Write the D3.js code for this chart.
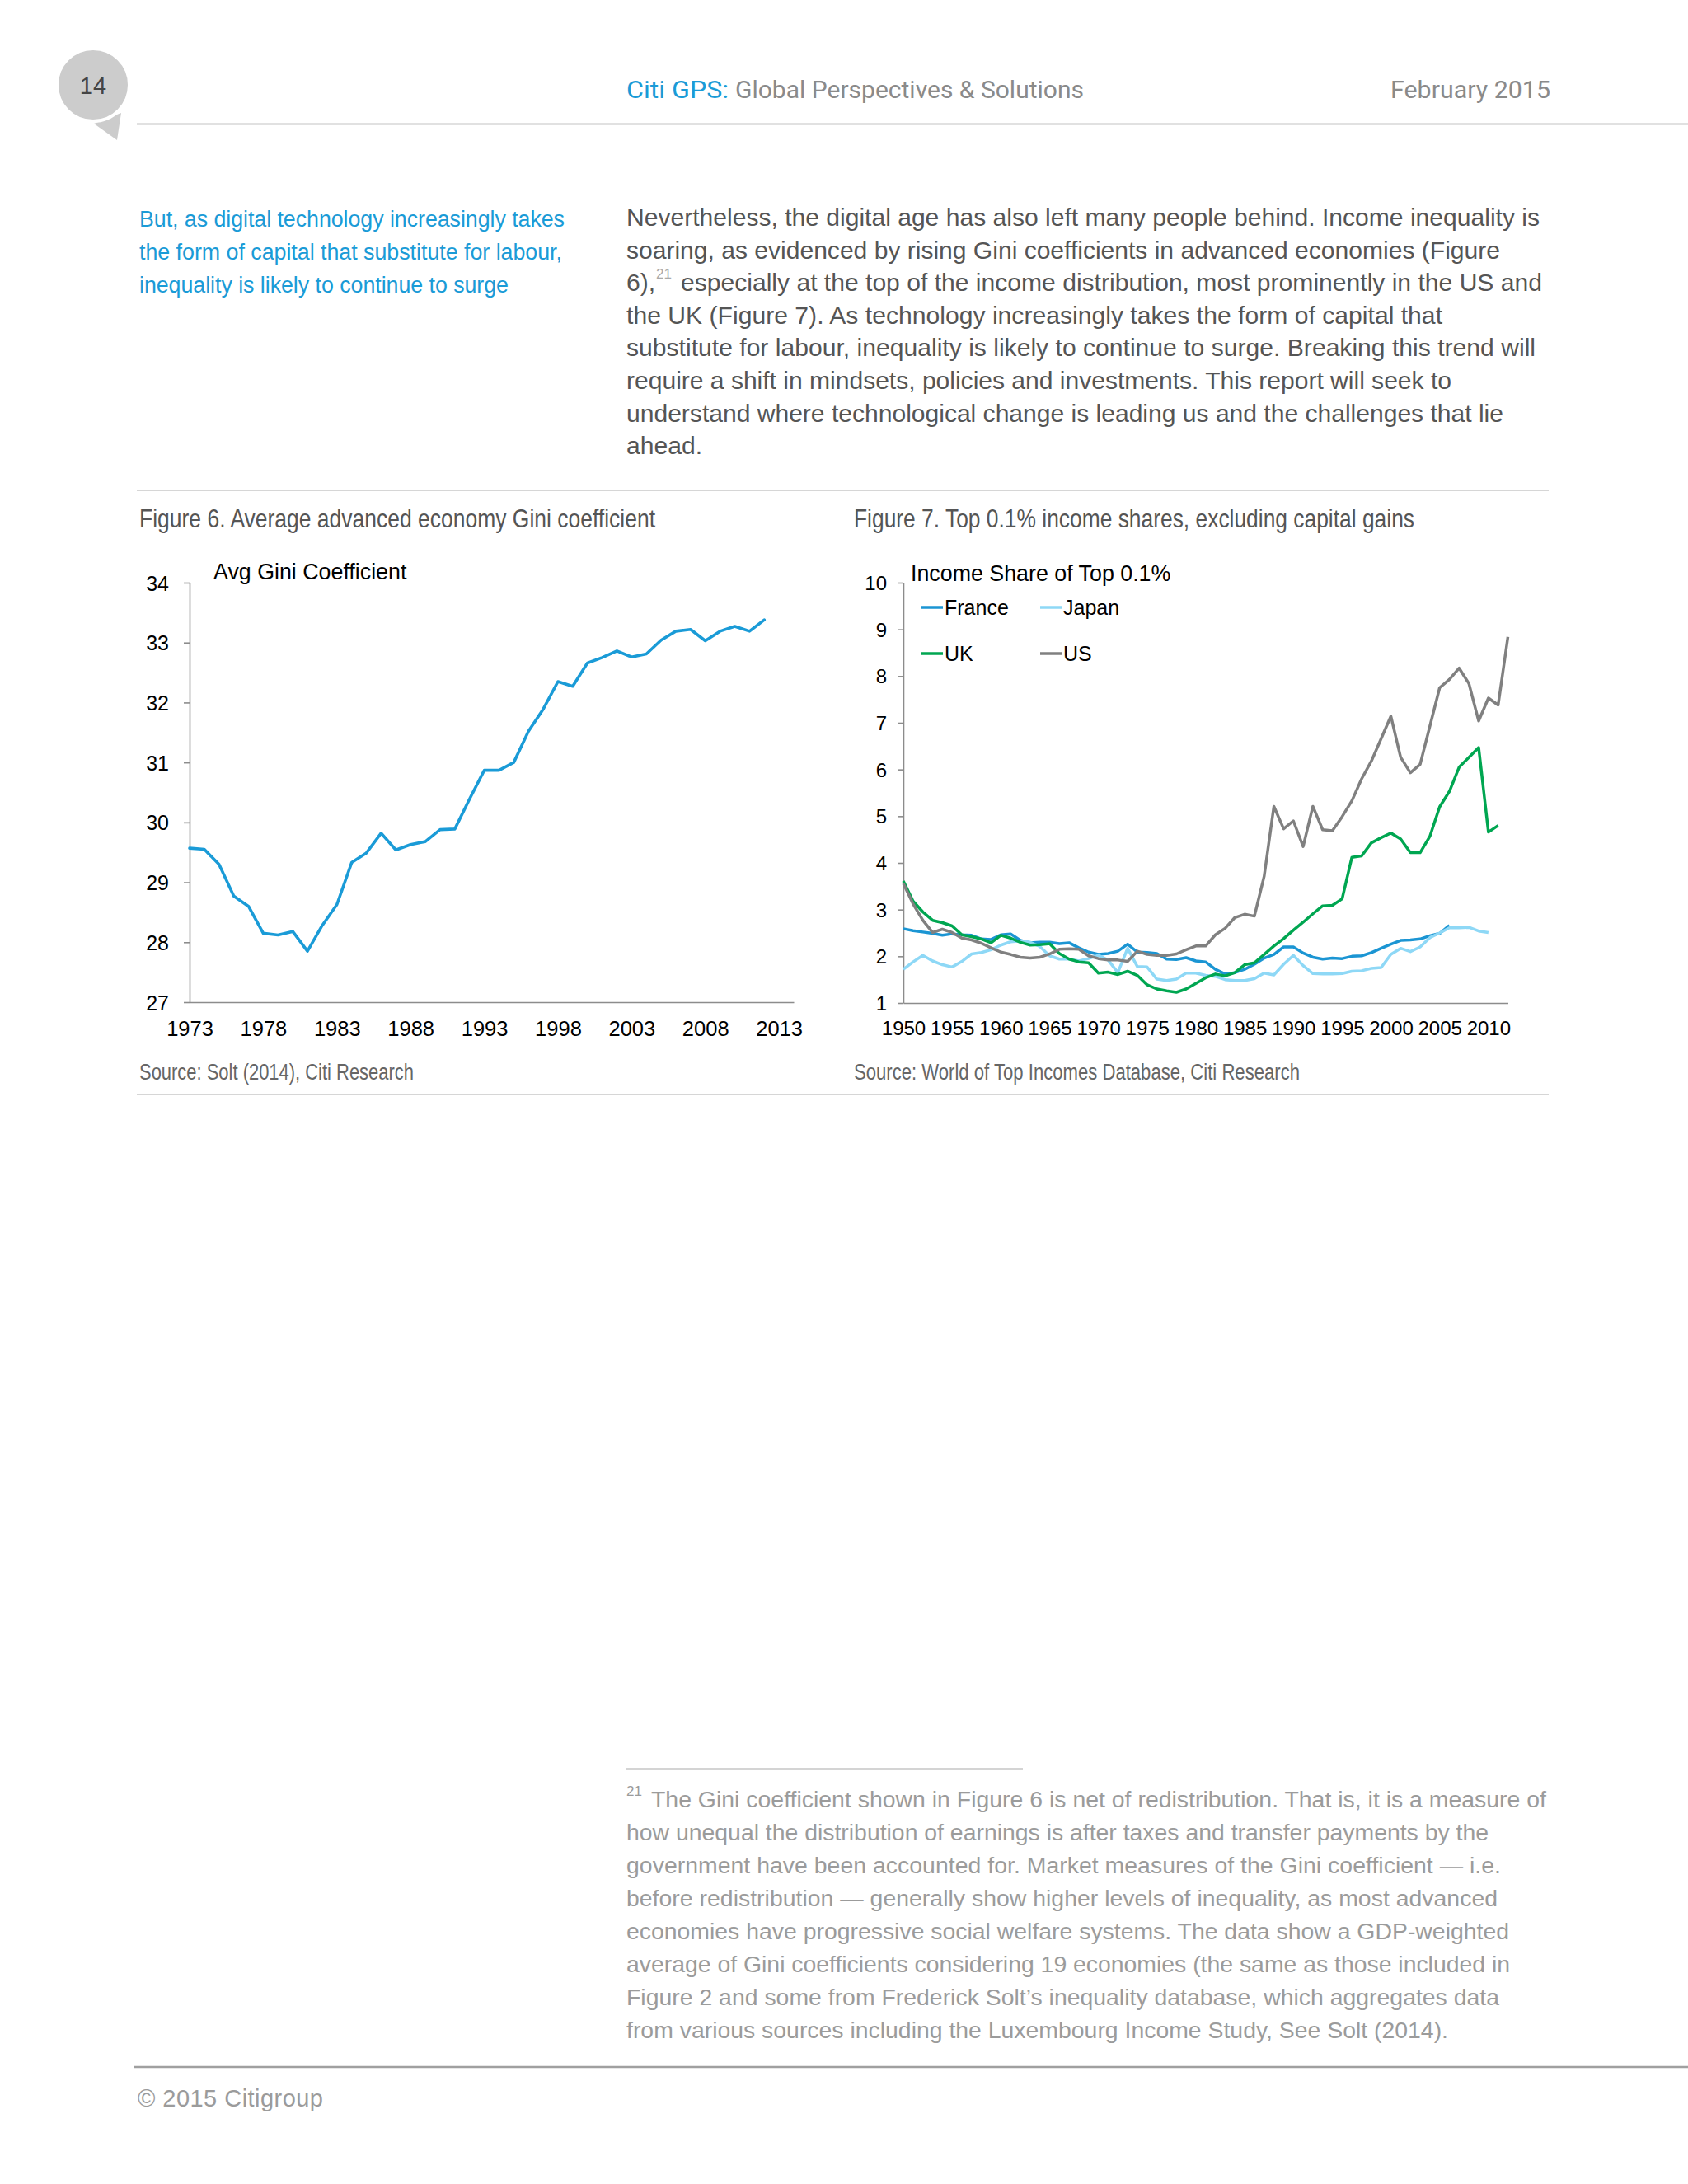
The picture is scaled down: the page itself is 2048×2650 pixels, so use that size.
<!DOCTYPE html>
<html>
<head>
<meta charset="utf-8">
<script src="https://cdn.jsdelivr.net/npm/d3@7"></script>
<style>
  body { margin: 0; background: #ffffff; }
  svg { display: block; }
</style>
</head>
<body>
<svg id="page" width="2048" height="2650"></svg>
<script>
// ---------------- DATA ----------------
// Figure 6: average advanced economy Gini coefficient, 1973-2012
const giniYearStart = 1973;
const giniValues = [
  29.57, 29.55, 29.30, 28.77, 28.60, 28.15, 28.12, 28.18, 27.85, 28.28,
  28.63, 29.33, 29.49, 29.82, 29.54, 29.63, 29.68, 29.88, 29.89, 30.39,
  30.87, 30.87, 31.00, 31.52, 31.89, 32.35, 32.27, 32.66, 32.75, 32.86,
  32.76, 32.81, 33.04, 33.19, 33.22, 33.03, 33.19, 33.27, 33.19, 33.38
];
const giniXTicks = [1973, 1978, 1983, 1988, 1993, 1998, 2003, 2008, 2013];
const giniYTicks = [27, 28, 29, 30, 31, 32, 33, 34];

// Figure 7: income share of top 0.1%, from 1950
const shareYearStart = 1950;
const franceShare = [
  2.59, 2.55, 2.52, 2.49, 2.45, 2.48, 2.46, 2.45, 2.37, 2.36,
  2.46, 2.48, 2.34, 2.29, 2.30, 2.30, 2.27, 2.29, 2.18, 2.09,
  2.04, 2.06, 2.11, 2.26, 2.09, 2.08, 2.06, 1.94, 1.93, 1.97,
  1.90, 1.88, 1.72, 1.62, 1.65, 1.72, 1.83, 1.96, 2.04, 2.20,
  2.20, 2.07, 1.98, 1.94, 1.96, 1.95, 2.00, 2.01, 2.08, 2.17,
  2.26, 2.34, 2.35, 2.37, 2.44, 2.49, 2.66
];
const japanShare = [
  1.72, 1.88, 2.02, 1.90, 1.82, 1.77, 1.89, 2.05, 2.08, 2.14,
  2.24, 2.31, 2.33, 2.30, 2.21, 2.01, 1.94, 1.94, 1.90, 1.95,
  2.02, 1.92, 1.65, 2.17, 1.78, 1.77, 1.51, 1.48, 1.51, 1.64,
  1.64, 1.59, 1.57, 1.50, 1.48, 1.48, 1.52, 1.64, 1.60, 1.83,
  2.02, 1.80, 1.63, 1.62, 1.62, 1.63, 1.68, 1.69, 1.74, 1.76,
  2.04, 2.17, 2.10, 2.20, 2.40, 2.50, 2.61, 2.61, 2.62, 2.54,
  2.51
];
const ukShare = [
  3.61, 3.18, 2.95, 2.77, 2.72, 2.65, 2.46, 2.42, 2.37, 2.29,
  2.45, 2.39, 2.30, 2.24, 2.25, 2.27, 2.06, 1.94, 1.88, 1.86,
  1.64, 1.66, 1.61, 1.68, 1.59, 1.39, 1.30, 1.26, 1.23, 1.30,
  1.42, 1.54, 1.62, 1.58, 1.65, 1.82, 1.86, 2.04, 2.22, 2.38,
  2.56, 2.73, 2.91, 3.08, 3.09, 3.23, 4.12, 4.15, 4.43, 4.54,
  4.64, 4.51, 4.22, 4.22, 4.57, 5.20, 5.53, 6.05, 6.26, 6.47,
  4.66, 4.80
];
const usShare = [
  3.56, 3.12, 2.77, 2.51, 2.58, 2.51, 2.39, 2.35, 2.28, 2.18,
  2.09, 2.04, 1.98, 1.96, 1.98, 2.05, 2.15, 2.16, 2.15, 2.01,
  1.95, 1.92, 1.92, 1.89, 2.11, 2.04, 2.02, 2.02, 2.05, 2.14,
  2.22, 2.22, 2.46, 2.60, 2.83, 2.90, 2.86, 3.71, 5.21, 4.73,
  4.90, 4.35, 5.21, 4.71, 4.69, 4.99, 5.33, 5.80, 6.18, 6.66,
  7.14, 6.26, 5.93, 6.11, 6.93, 7.75, 7.93, 8.17, 7.84, 7.04,
  7.53, 7.38, 8.84
];
const shareSeriesNames = ["France", "Japan", "UK", "US"];
const shareXTicks = [1950, 1955, 1960, 1965, 1970, 1975, 1980, 1985, 1990, 1995, 2000, 2005, 2010];
const shareYTicks = [1, 2, 3, 4, 5, 6, 7, 8, 9, 10];

// Texts
const pageNumber = "14";
const headerBrand = "Citi GPS:";
const headerTitle = "Global Perspectives & Solutions";
const headerDate = "February 2015";
const sideLines = [
  "But, as digital technology increasingly takes",
  "the form of capital that substitute for labour,",
  "inequality is likely to continue to surge"
];
const bodyLines = [
  "Nevertheless, the digital age has also left many people behind. Income inequality is",
  "soaring, as evidenced by rising Gini coefficients in advanced economies (Figure",
  ["6),", "21", "especially at the top of the income distribution, most prominently in the US and"],
  "the UK (Figure 7). As technology increasingly takes the form of capital that",
  "substitute for labour, inequality is likely to continue to surge. Breaking this trend will",
  "require a shift in mindsets, policies and investments. This report will seek to",
  "understand where technological change is leading us and the challenges that lie",
  "ahead."
];
const fig6Title = "Figure 6. Average advanced economy Gini coefficient";
const fig7Title = "Figure 7. Top 0.1% income shares, excluding capital gains";
const fig6Label = "Avg Gini Coefficient";
const fig7Label = "Income Share of Top 0.1%";
const fig6Source = "Source: Solt (2014), Citi Research";
const fig7Source = "Source: World of Top Incomes Database, Citi Research";
const footnoteMark = "21";
const footnoteLines = [
  "The Gini coefficient shown in Figure 6 is net of redistribution. That is, it is a measure of",
  "how unequal the distribution of earnings is after taxes and transfer payments by the",
  "government have been accounted for. Market measures of the Gini coefficient \u2014 i.e.",
  "before redistribution \u2014 generally show higher levels of inequality, as most advanced",
  "economies have progressive social welfare systems. The data show a GDP-weighted",
  "average of Gini coefficients considering 19 economies (the same as those included in",
  "Figure 2 and some from Frederick Solt\u2019s inequality database, which aggregates data",
  "from various sources including the Luxembourg Income Study, See Solt (2014)."
];
const copyright = "\u00a9 2015 Citigroup";

// ---------------- STYLE ----------------
const SANS = "'Liberation Sans', Arial, Helvetica, sans-serif";
const NARROW = "'Liberation Sans Narrow', 'Arial Narrow', 'Liberation Sans', Arial, sans-serif";
const HEAD = "Roboto, 'Open Sans', 'DejaVu Sans', sans-serif";
const BLUE = "#1a9bd7";
const AXIS = "#8c8c8c";
const seriesColors = { France: "#1b95d3", Japan: "#8ed8f6", UK: "#00a651", US: "#808080" };

const svg = d3.select("#page");
svg.append("rect").attr("width", 2048).attr("height", 2650).attr("fill", "#fff");

function text(x, y, s, o) {
  const t = svg.append("text").attr("x", x).attr("y", y).text(s)
    .attr("font-family", o.font || SANS)
    .attr("font-size", o.size)
    .attr("fill", o.fill || "#000");
  if (o.anchor) t.attr("text-anchor", o.anchor);
  if (o.weight) t.attr("font-weight", o.weight);
  if (o.len) t.attr("textLength", o.len).attr("lengthAdjust", o.adjust || "spacing");
  return t;
}

// ---------------- HEADER ----------------
svg.append("path").attr("d", "M114,150 L147,137 L142,170 Z").attr("fill", "#cccccc");
svg.append("circle").attr("cx", 113).attr("cy", 103).attr("r", 44)
  .attr("fill", "#cccccc").attr("stroke", "#ffffff").attr("stroke-width", 4);
text(113, 114, pageNumber, { size: 29, fill: "#444", anchor: "middle" });

text(760, 119, headerBrand, { font: HEAD, size: 30, fill: BLUE, len: 124, adjust: "spacingAndGlyphs" });
text(892, 119, headerTitle, { font: HEAD, size: 30, fill: "#8a8a8a", len: 423, adjust: "spacingAndGlyphs" });
text(1687, 119, headerDate, { font: HEAD, size: 30, fill: "#8a8a8a", len: 194, adjust: "spacingAndGlyphs" });
svg.append("line").attr("x1", 166).attr("x2", 2048).attr("y1", 150.5).attr("y2", 150.5)
  .attr("stroke", "#c4c4c4").attr("stroke-width", 2);

// ---------------- SIDE + BODY TEXT ----------------
const sideEnds = [685, 682, 617];
sideLines.forEach((s, i) => {
  text(169, 275 + 40 * i, s, { size: 26.8, fill: BLUE, len: sideEnds[i] - 169 });
});

const bodyEnds = [1868, 1820, 1871, 1750, 1863, 1761, 1824, null];
bodyLines.forEach((s, i) => {
  const y = 274 + 39.6 * i;
  if (Array.isArray(s)) {
    text(760, y, s[0], { size: 30.1, fill: "#555" });
    text(796, y - 15, s[1], { size: 17, fill: "#aaa" });
    text(826, y, s[2], { size: 30.1, fill: "#555", len: bodyEnds[i] - 826 });
  } else {
    const o = { size: 30.1, fill: "#555" };
    if (bodyEnds[i]) o.len = bodyEnds[i] - 760;
    text(760, y, s, o);
  }
});

// separators
svg.append("line").attr("x1", 166).attr("x2", 1879).attr("y1", 595).attr("y2", 595)
  .attr("stroke", "#c8c8c8").attr("stroke-width", 1.6);
svg.append("line").attr("x1", 166).attr("x2", 1879).attr("y1", 1328).attr("y2", 1328)
  .attr("stroke", "#c8c8c8").attr("stroke-width", 1.6);

// figure titles & sources
text(169, 640, fig6Title, { font: NARROW, size: 32, fill: "#555", len: 626, adjust: "spacingAndGlyphs" });
text(1036, 640, fig7Title, { font: NARROW, size: 32, fill: "#555", len: 680, adjust: "spacingAndGlyphs" });
text(169, 1310, fig6Source, { font: NARROW, size: 27, fill: "#666", len: 333, adjust: "spacingAndGlyphs" });
text(1036, 1310, fig7Source, { font: NARROW, size: 27, fill: "#666", len: 541, adjust: "spacingAndGlyphs" });

// ---------------- AXES HELPER ----------------
function drawAxes(x, y, xTicks, yTicks, o) {
  const x0 = x.range()[0];
  const yBottom = y.range()[0];
  const gy = svg.append("g").attr("transform", `translate(${x0},0)`)
    .call(d3.axisLeft(y).tickValues(yTicks).tickSize(o.tick).tickSizeOuter(0).tickFormat(d3.format("d")));
  gy.attr("font-family", SANS).attr("font-size", o.yfs);
  gy.select(".domain").attr("stroke", AXIS).attr("stroke-width", 1.6);
  gy.selectAll(".tick line").attr("stroke", AXIS).attr("stroke-width", 1.6);
  gy.selectAll(".tick text").attr("x", -o.yOff).attr("dy", "0.36em").attr("fill", "#000");

  const gx = svg.append("g").attr("transform", `translate(0,${yBottom})`)
    .call(d3.axisBottom(x).tickValues(xTicks).tickSize(0).tickSizeOuter(0).tickFormat(d3.format("d")));
  gx.attr("font-family", SANS).attr("font-size", o.xfs);
  gx.select(".domain").attr("stroke", AXIS).attr("stroke-width", 1.6);
  gx.selectAll(".tick text").attr("y", o.xOff).attr("dy", null).attr("fill", "#000");
}

// ---------------- FIGURE 6 ----------------
const x6 = d3.scaleLinear().domain([1973, 2014]).range([230, 963]);
const y6 = d3.scaleLinear().domain([27, 34]).range([1216, 707]);
drawAxes(x6, y6, giniXTicks, giniYTicks, { tick: 7, yOff: 25, xOff: 41, yfs: 25, xfs: 25.5 });
text(259, 703, fig6Label, { size: 26.8, fill: "#000" });
const giniData = giniValues.map((v, i) => ({ year: giniYearStart + i, v }));
svg.append("path").datum(giniData)
  .attr("d", d3.line().x(d => x6(d.year)).y(d => y6(d.v)))
  .attr("fill", "none").attr("stroke", BLUE).attr("stroke-width", 3.6)
  .attr("stroke-linejoin", "round").attr("stroke-linecap", "round");

// ---------------- FIGURE 7 ----------------
const x7 = d3.scaleLinear().domain([1950, 2012]).range([1096, 1829.5]);
const y7 = d3.scaleLinear().domain([1, 10]).range([1217, 707]);
drawAxes(x7, y7, shareXTicks, shareYTicks, { tick: 6, yOff: 20, xOff: 39, yfs: 24, xfs: 24 });
text(1105, 705, fig7Label, { size: 26.8, fill: "#000" });

const shareSeries = {
  France: franceShare, Japan: japanShare, UK: ukShare, US: usShare
};
const line7 = d3.line().x(d => x7(d.year)).y(d => y7(d.v));
shareSeriesNames.forEach(name => {
  const data = shareSeries[name].map((v, i) => ({ year: shareYearStart + i, v }));
  svg.append("path").datum(data).attr("d", line7)
    .attr("fill", "none").attr("stroke", seriesColors[name]).attr("stroke-width", 3.5)
    .attr("stroke-linejoin", "round");
});

// legend
const legendPos = [
  { name: "France", lx: 1118, tx: 1146, y: 737 },
  { name: "Japan", lx: 1262, tx: 1290, y: 737 },
  { name: "UK", lx: 1118, tx: 1146, y: 793 },
  { name: "US", lx: 1262, tx: 1290, y: 793 }
];
legendPos.forEach(p => {
  svg.append("line").attr("x1", p.lx).attr("x2", p.lx + 26).attr("y1", p.y).attr("y2", p.y)
    .attr("stroke", seriesColors[p.name]).attr("stroke-width", 3.5);
  text(p.tx, p.y + 8.5, p.name, { size: 25, fill: "#000" });
});

// ---------------- FOOTNOTE ----------------
svg.append("line").attr("x1", 760).attr("x2", 1241).attr("y1", 2146.5).attr("y2", 2146.5)
  .attr("stroke", "#555").attr("stroke-width", 1.5);
text(760, 2179, footnoteMark, { size: 17, fill: "#9b9b9b" });
const footEnds = [1876, 1806, 1821, 1817, 1831, 1832, 1819, 1757];
footnoteLines.forEach((s, i) => {
  const x = i === 0 ? 790 : 760;
  text(x, 2193 + 40 * i, s, { size: 28.4, fill: "#9b9b9b", len: footEnds[i] - x });
});

// ---------------- FOOTER ----------------
svg.append("line").attr("x1", 162).attr("x2", 2048).attr("y1", 2508).attr("y2", 2508)
  .attr("stroke", "#a0a0a0").attr("stroke-width", 2.5);
text(167, 2556, copyright, { size: 29, fill: "#9b9b9b", len: 225 });
</script>
</body>
</html>
